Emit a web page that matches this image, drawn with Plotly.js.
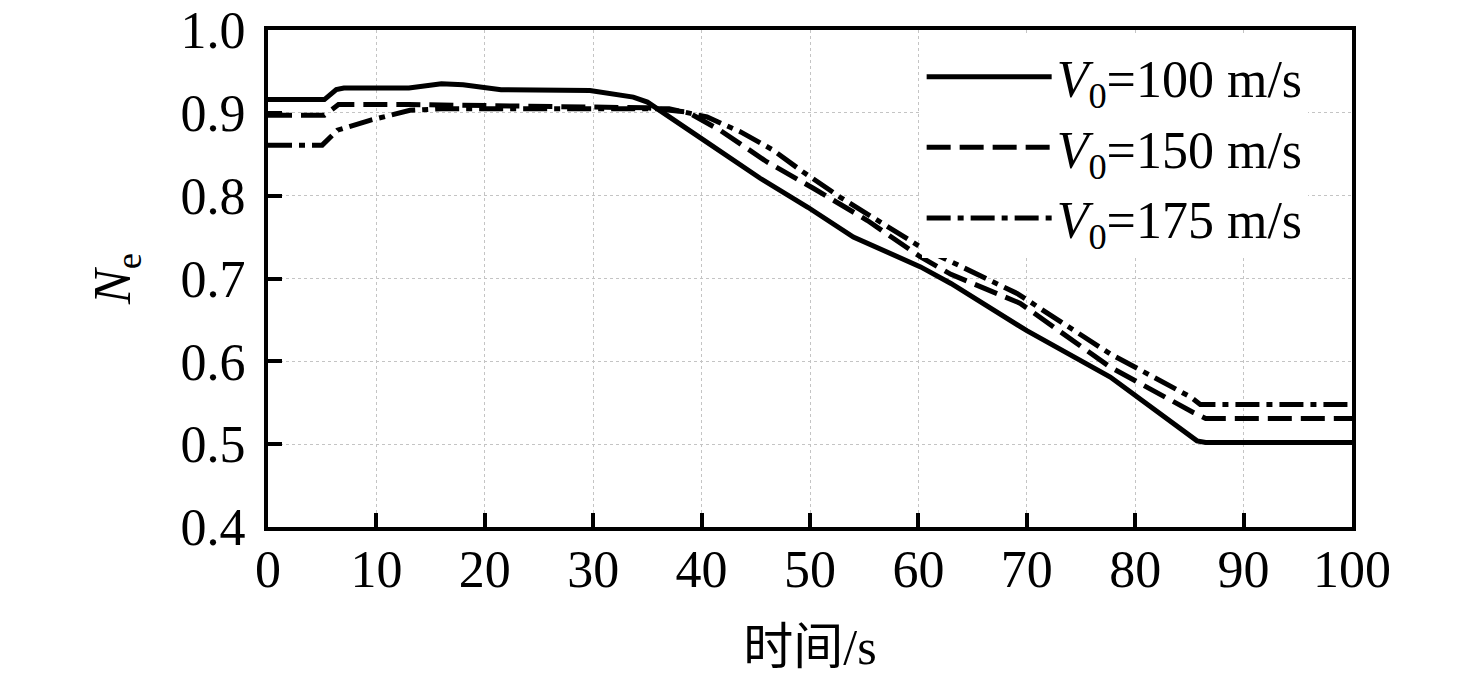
<!DOCTYPE html>
<html>
<head>
<meta charset="utf-8">
<script src="https://cdn.plot.ly/plotly-3.0.1.min.js"></script>
<style>
  html, body { margin: 0; padding: 0; background: #fff; }
  #chart { width: 1476px; height: 683px; }
</style>
</head>
<body>
<div id="chart"></div>
<script>
"use strict"

// values (time in s, N_e)
const t100 = [0, 5.2, 6.3, 7, 13, 16, 18, 21.5, 29.7, 33.7, 35, 37.1, 40.2, 45.4, 49.8, 54, 60.2, 63, 70, 77.7, 81.4, 85.7, 86.5, 100]
const ne100 = [0.916, 0.916, 0.928, 0.930, 0.930, 0.935, 0.934, 0.928, 0.927, 0.919, 0.913, 0.895, 0.867, 0.821, 0.786, 0.750, 0.714, 0.694, 0.637, 0.581, 0.545, 0.504, 0.502, 0.502]

const t150 = [0, 5.2, 6.5, 13, 35, 38.7, 41.7, 46, 50.3, 55.3, 60.2, 63, 69.4, 77.7, 85.4, 86.5, 100]
const ne150 = [0.897, 0.897, 0.910, 0.910, 0.906, 0.901, 0.879, 0.841, 0.809, 0.770, 0.726, 0.705, 0.670, 0.593, 0.538, 0.531, 0.531]

const t175 = [0, 5, 6.4, 9.4, 13.1, 16, 37, 40.5, 43.6, 46.6, 49.1, 52.8, 60.2, 63, 69.1, 77.7, 85.1, 86, 100]
const ne175 = [0.861, 0.861, 0.879, 0.891, 0.903, 0.905, 0.905, 0.895, 0.877, 0.855, 0.831, 0.798, 0.738, 0.720, 0.682, 0.609, 0.557, 0.548, 0.548]

const seriesNames = ["<i>V</i><sub>0</sub>=100 m/s", "<i>V</i><sub>0</sub>=150 m/s", "<i>V</i><sub>0</sub>=175 m/s"]
const xTicks = [0, 10, 20, 30, 40, 50, 60, 70, 80, 90, 100]
const yTicks = [0.4, 0.5, 0.6, 0.7, 0.8, 0.9, 1.0]

const serif = "Liberation Serif, Times New Roman, Noto Sans CJK SC, serif"

const makeTrace = (x, y, name, dash) => ({
  x: x,
  y: y,
  name: name,
  mode: "lines",
  type: "scatter",
  line: {color: "#000", width: 5, dash: dash},
})

const data = [
  makeTrace(t100, ne100, seriesNames[0], "solid"),
  makeTrace(t150, ne150, seriesNames[1], "24px,9px"),
  makeTrace(t175, ne175, seriesNames[2], "24px,7px,6px,7px"),
]

const axisBase = {
  showline: true,
  linecolor: "#000",
  linewidth: 4,
  mirror: true,
  ticks: "inside",
  ticklen: 14,
  tickwidth: 4,
  tickcolor: "#000",
  showgrid: true,
  gridcolor: "#c4c4c4",
  gridwidth: 1,
  griddash: "dot",
  zeroline: false,
  tickfont: {family: serif, size: 52, color: "#000"},
}

const layout = {
  width: 1476,
  height: 683,
  paper_bgcolor: "#fff",
  plot_bgcolor: "#fff",
  margin: {l: 268, r: 124, t: 30, b: 156, pad: 0},
  font: {family: serif, color: "#000"},
  showlegend: true,
  legend: {
    x: 0.603,
    y: 0.987,
    xanchor: "left",
    yanchor: "top",
    bgcolor: "#fff",
    borderwidth: 0,
    itemwidth: 125,
    tracegroupgap: 0,
    font: {family: serif, size: 52, color: "#000"},
  },
  xaxis: Object.assign({}, axisBase, {
    range: [0, 100],
    tickvals: xTicks,
    ticktext: xTicks.map(v => String(v)),
    ticklabelstandoff: -6,
    title: {text: "时间/s", font: {family: serif, size: 50, color: "#000"}, standoff: 33},
  }),
  yaxis: Object.assign({}, axisBase, {
    range: [0.4, 1.0],
    tickvals: yTicks,
    ticktext: yTicks.map(v => v.toFixed(1)),
    ticklabelstandoff: 8,
    title: {text: "<i>N</i><sub>e</sub>", font: {family: serif, size: 52, color: "#000"}, standoff: 34},
  }),
}

Plotly.newPlot("chart", data, layout, {displayModeBar: false, staticPlot: true})
</script>
</body>
</html>
